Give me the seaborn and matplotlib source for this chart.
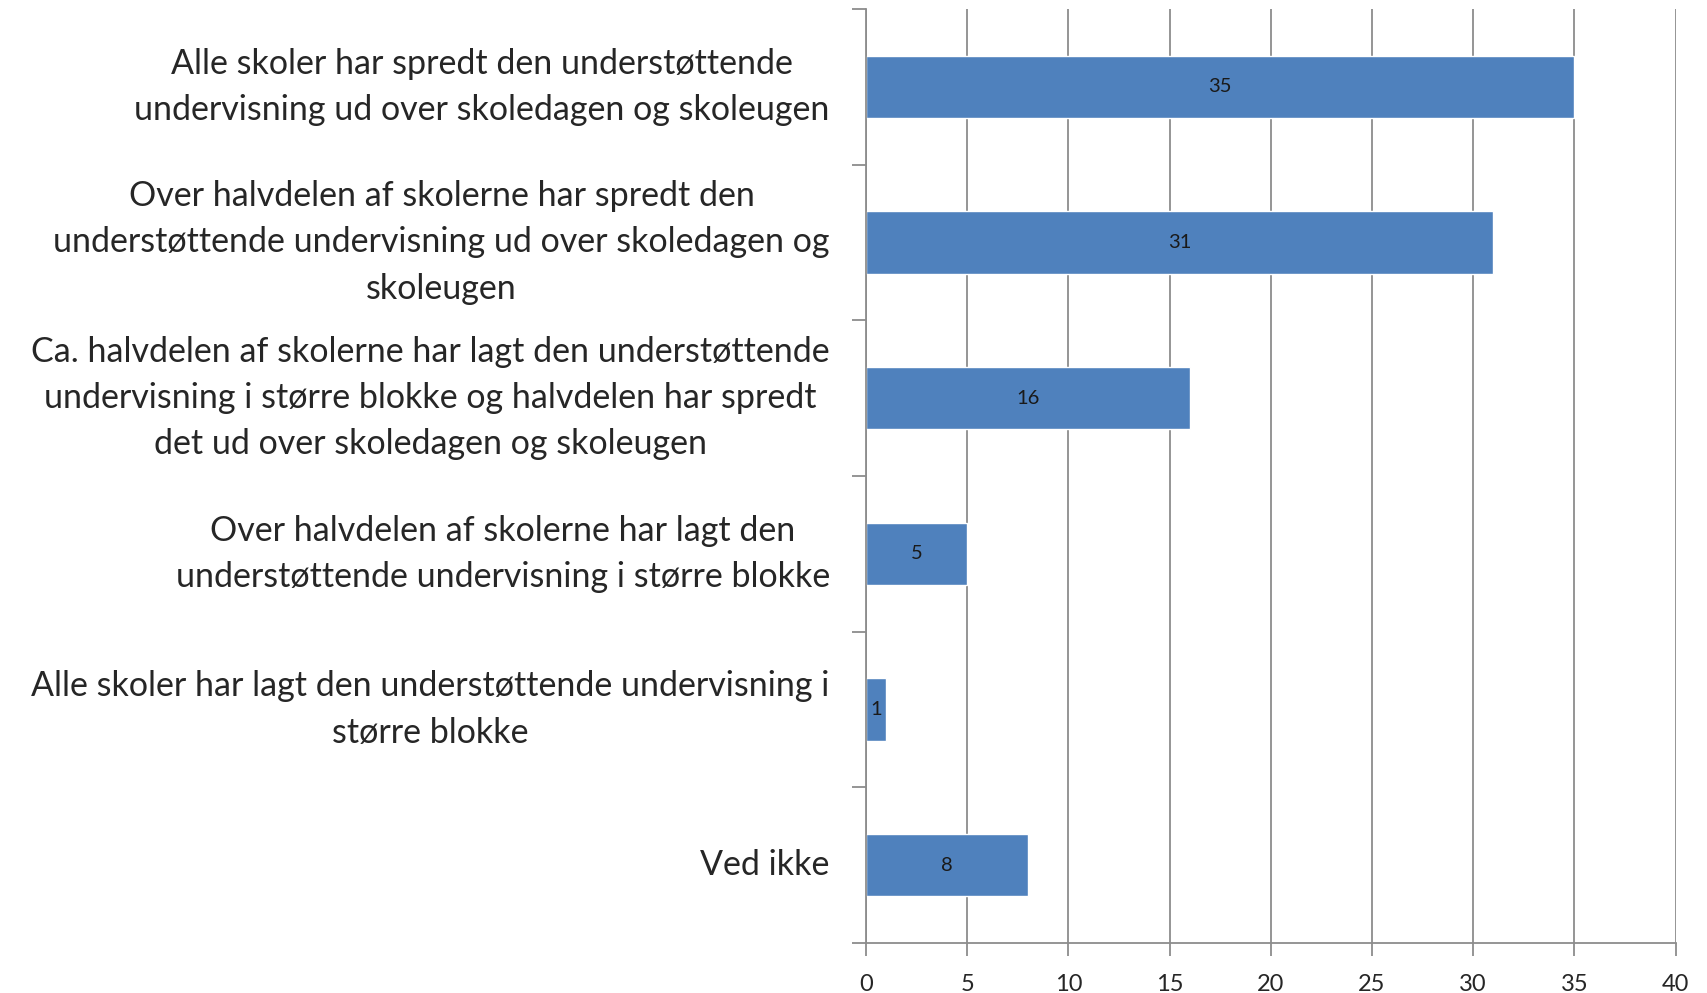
import matplotlib
matplotlib.use("Agg")
import matplotlib.pyplot as plt
import seaborn as sns
import pandas as pd
import numpy as np

categories = [
    "Alle skoler har spredt den understøttende\nundervisning ud over skoledagen og skoleugen",
    "Over halvdelen af skolerne har spredt den\nunderstøttende undervisning ud over skoledagen og\nskoleugen",
    "Ca. halvdelen af skolerne har lagt den understøttende\nundervisning i større blokke og halvdelen har spredt\ndet ud over skoledagen og skoleugen",
    "Over halvdelen af skolerne har lagt den\nunderstøttende undervisning i større blokke",
    "Alle skoler har lagt den understøttende undervisning i\nstørre blokke",
    "Ved ikke",
]
values = [35, 31, 16, 5, 1, 8]
xticks = [0, 5, 10, 15, 20, 25, 30, 35, 40]

sns.set_theme(style="white")
plt.rcParams["font.family"] = ["Lato", "DejaVu Sans"]

df = pd.DataFrame({"cat": categories, "val": values})

fig = plt.figure(figsize=(17.08, 9.93), dpi=100)
ax = fig.add_axes([0.507, 0.0504, 0.474, 0.9406])

grid_c = "#8c8c8c"
for x in xticks:
    ax.axvline(x, color=grid_c, lw=1.3, zorder=0)

sns.barplot(data=df, x="val", y="cat", orient="h", color="#4F81BD",
            width=0.4, saturation=1, ax=ax, zorder=2)

for i, v in enumerate(values):
    ax.text(v / 2, i, str(v), ha="center", va="center", fontsize=14.5,
            color="#1a1a1a", zorder=3)

ax.set_xlim(0, 40)
ax.set_ylim(5.5, -0.5)
ax.set_xticks(xticks)
ax.set_xticklabels([str(x) for x in xticks], fontsize=17)
ax.set_yticks(range(len(categories)))
ax.set_yticklabels(categories, fontsize=24.5, multialignment="center",
                   linespacing=1.55, va="center")
ax.set_yticks(np.arange(-0.5, 6.0, 1.0), minor=True)
ax.tick_params(axis="y", which="major", length=0, pad=26)
ax.tick_params(axis="y", which="minor", length=10, width=1.3, color=grid_c, left=True)
ax.tick_params(axis="x", which="major", length=9, width=1.3, color=grid_c, bottom=True, pad=13)
ax.set_xlabel("")
ax.set_ylabel("")
for s in ["top", "right"]:
    ax.spines[s].set_visible(False)
for s in ["left", "bottom"]:
    ax.spines[s].set_color(grid_c)
    ax.spines[s].set_linewidth(1.3)
ax.grid(False)

fig.savefig("out.png", dpi=100, facecolor="white")
